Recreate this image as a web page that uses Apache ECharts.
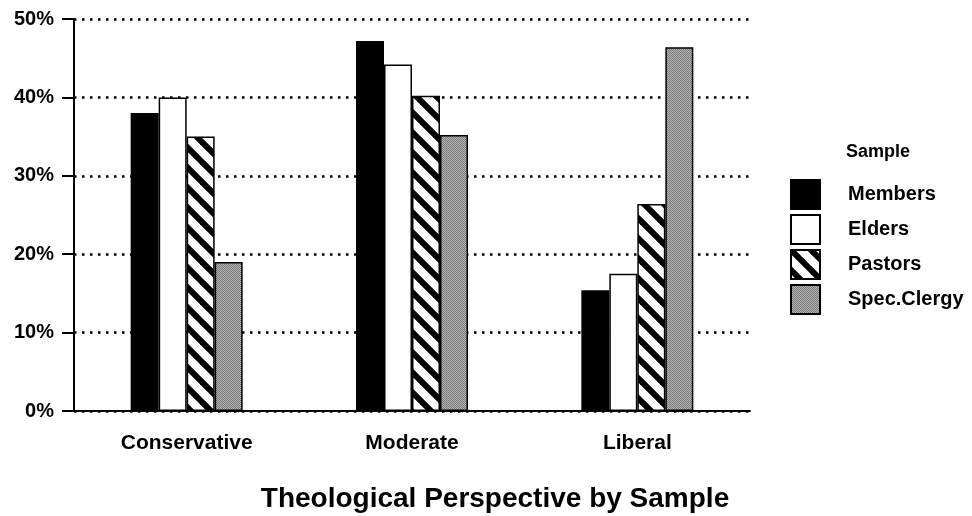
<!DOCTYPE html>
<html>
<head>
<meta charset="utf-8">
<script src="https://cdn.jsdelivr.net/npm/echarts@6/dist/echarts.min.js"></script>
<style>
  html, body { margin: 0; padding: 0; background: #fff; }
  #chart { width: 972px; height: 516px; }
</style>
</head>
<body>
<div id="chart"></div>
<script>
  // data
  const categories = ['Conservative', 'Moderate', 'Liberal'];
  const members = [38, 47.2, 15.4];
  const elders = [40, 44.2, 17.5];
  const pastors = [35, 40.2, 26.4];
  const specClergy = [19, 35.2, 46.4];
  const yTicks = [0, 10, 20, 30, 40, 50];

  const FONT = '"Liberation Sans", Arial, sans-serif';

  // diagonal stripes "\" for pastors
  function stripeTile() {
    const c = document.createElement('canvas');
    c.width = 20;
    c.height = 20;
    const ctx = c.getContext('2d');
    ctx.fillStyle = '#fff';
    ctx.fillRect(0, 0, 20, 20);
    ctx.strokeStyle = '#000';
    ctx.lineWidth = 6;
    [[-10, -10, 30, 30], [-10, 10, 10, 30], [10, -10, 30, 10]].forEach(function (l) {
      ctx.beginPath();
      ctx.moveTo(l[0], l[1]);
      ctx.lineTo(l[2], l[3]);
      ctx.stroke();
    });
    return c;
  }

  // fine grey stipple for spec. clergy
  function stippleTile() {
    const c = document.createElement('canvas');
    c.width = 2;
    c.height = 2;
    const ctx = c.getContext('2d');
    ctx.fillStyle = '#b4b4b4';
    ctx.fillRect(0, 0, 2, 2);
    ctx.fillStyle = '#7a7a7a';
    ctx.fillRect(0, 0, 1, 1);
    ctx.fillRect(1, 1, 1, 1);
    return c;
  }

  const chart = echarts.init(document.getElementById('chart'));

  function barSeries(name, data, color) {
    return {
      name: name,
      type: 'bar',
      data: data,
      barWidth: 28,
      barGap: '0%',
      itemStyle: { color: color, borderColor: '#000', borderWidth: 1.5 },
      emphasis: { disabled: true }
    };
  }

  chart.setOption({
    animation: false,
    grid: { left: 74, right: 222, top: 19, bottom: 105 },
    xAxis: {
      type: 'category',
      data: categories,
      axisLine: { lineStyle: { color: '#000', width: 2 } },
      axisTick: { alignWithLabel: true, length: 13, lineStyle: { color: '#000', width: 2 } },
      axisLabel: { color: '#000', fontFamily: FONT, fontWeight: 'bold', fontSize: 21, margin: 22 }
    },
    yAxis: {
      type: 'value',
      min: yTicks[0],
      max: yTicks[yTicks.length - 1],
      interval: 10,
      axisLine: { show: true, lineStyle: { color: '#000', width: 2 } },
      axisTick: { show: true, length: 12, lineStyle: { color: '#000', width: 2 } },
      axisLabel: {
        color: '#000', fontFamily: FONT, fontWeight: 'bold', fontSize: 20, margin: 20,
        formatter: '{value}%'
      },
      splitLine: { lineStyle: { color: '#000', width: 2.5, type: [2.5, 5.5] } }
    },
    legend: {
      orient: 'vertical',
      left: 790,
      top: 179,
      padding: 0,
      icon: 'rect',
      itemWidth: 29,
      itemHeight: 29,
      itemGap: 4,
      selectedMode: false,
      textStyle: { color: '#000', fontFamily: FONT, fontWeight: 'bold', fontSize: 20, padding: [0, 0, 0, 23] },
      data: ['Members', 'Elders', 'Pastors', 'Spec.Clergy']
    },
    graphic: [
      {
        type: 'text', left: 846, top: 143,
        style: { text: 'Sample', fill: '#000', font: 'bold 18px ' + FONT }
      },
      {
        type: 'text',
        style: {
          x: 495, y: 499, text: 'Theological Perspective by Sample',
          fill: '#000', font: 'bold 28px ' + FONT, textAlign: 'center', textVerticalAlign: 'middle'
        }
      }
    ],
    series: [
      barSeries('Members', members, '#000'),
      barSeries('Elders', elders, '#fff'),
      barSeries('Pastors', pastors, { image: stripeTile(), repeat: 'repeat' }),
      barSeries('Spec.Clergy', specClergy, { image: stippleTile(), repeat: 'repeat' })
    ]
  });
</script>
</body>
</html>
